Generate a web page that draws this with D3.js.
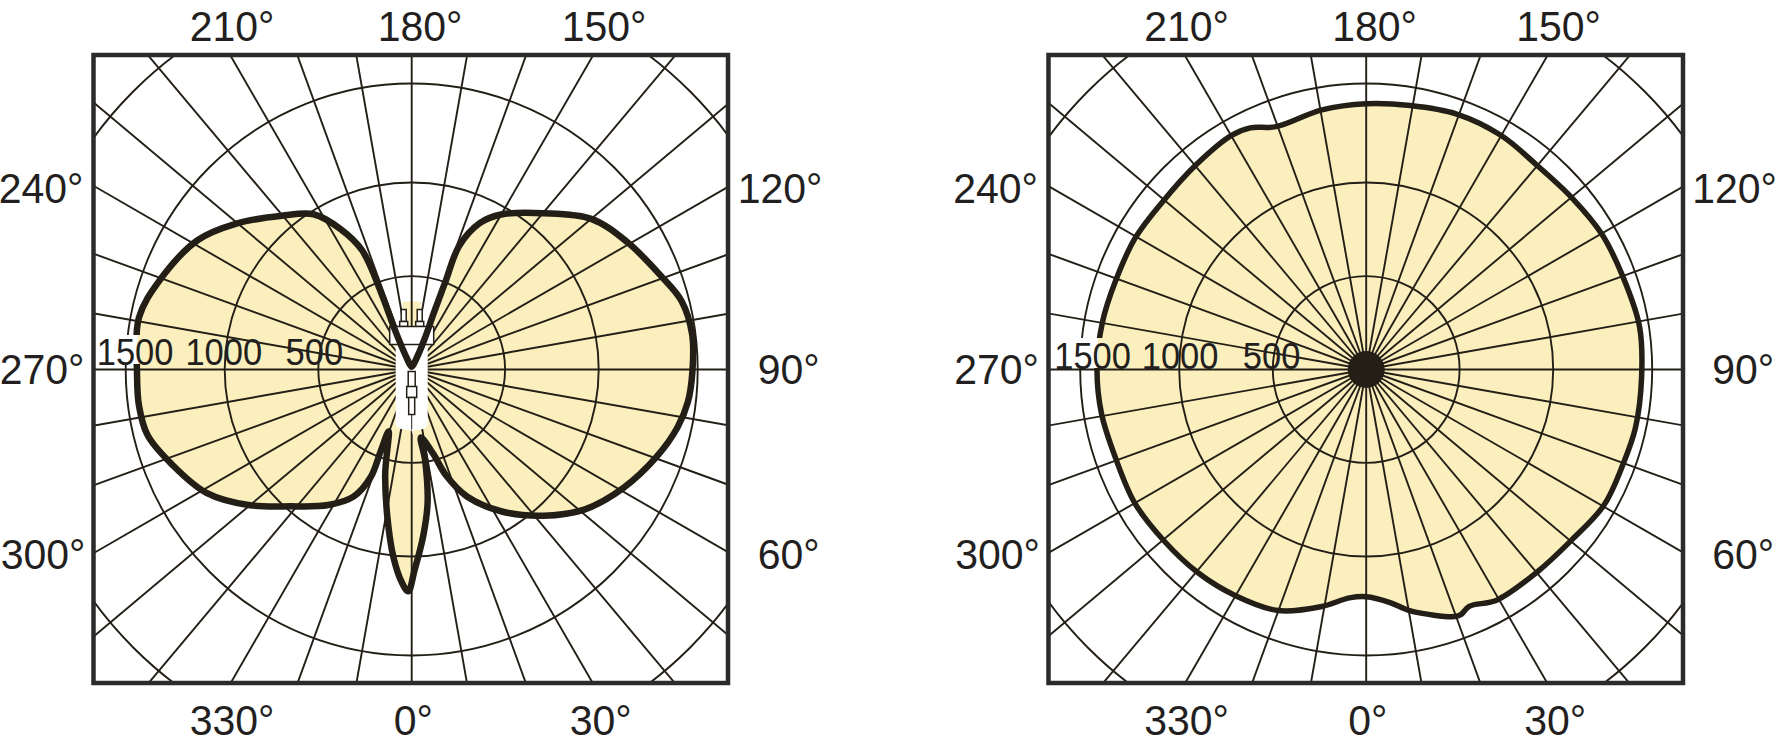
<!DOCTYPE html>
<html>
<head>
<meta charset="utf-8">
<title>Polar light distribution</title>
<script src="https://cdn.jsdelivr.net/npm/d3@7"></script>
<style>
  html, body { margin: 0; padding: 0; background: #fff; }
  svg { display: block; }
  text { font-family: "Liberation Sans", Arial, sans-serif; fill: #231f20; }
</style>
</head>
<body>
<div id="chart"></div>
<script>
// C-plane angle (deg, 0 = down, 90 = right, 180 = up) and intensity (cd)
const leftAngles = [0.8, 3.9, 6.8, 8.4, 7.7, 14.4, 18, 23.6, 32.2, 42, 51.1, 60.7, 70.4, 77.8, 83.3, 89.4, 97.1, 104.2, 110.6, 120.6, 130, 139.9, 150, 155, 159, 159, 158.6, 157, 157, 180, 203, 203, 201.7, 202.6, 206.8, 212.3, 220.2, 230.4, 238.8, 250.4, 259.3, 270.6, 277.6, 284, 291.8, 301, 309.7, 318.5, 328.4, 335.4, 339.1, 339.2, 339.5, 345.7, 350.5, 354.5, 357.4, 359.1]
const leftValues = [1070, 896, 718, 493, 367, 468, 597, 743, 896, 1049, 1180, 1280, 1369, 1430, 1460, 1473, 1483, 1462, 1400, 1320, 1239, 1087, 957, 865, 707, 513, 322, 170, 60, 15, 60, 226, 444, 691, 840, 982, 1072, 1210, 1318, 1405, 1458, 1443, 1445, 1430, 1356, 1265, 1127, 977, 851, 748, 619, 462, 354, 574, 793, 1011, 1134, 1176]

const rightAngles = [0, 5.7, 10.4, 19.7, 21.1, 23.5, 29.5, 40, 49.9, 60.2, 69.5, 77.8, 88.4, 98.9, 110, 119.9, 129.7, 140.2, 150.1, 160.5, 170.5, 180, 189.7, 200.4, 205.6, 209.9, 219.8, 230.7, 240.4, 250.4, 259.9, 269.8, 279.3, 289.7, 300, 310.4, 320.4, 330, 339.9, 349.4, 355.8]
const rightValues = [1203, 1237, 1295, 1381, 1383, 1360, 1394, 1394, 1403, 1438, 1438, 1447, 1447, 1453, 1434, 1428, 1409, 1400, 1420, 1424, 1407, 1398, 1386, 1364, 1409, 1420, 1400, 1388, 1398, 1398, 1409, 1415, 1411, 1398, 1405, 1394, 1388, 1375, 1352, 1273, 1212]

const ringValues = [500, 1000, 1500, 2000]
const ringLabels = [500, 1000, 1500]
const spokeAngles = d3.range(0, 360, 10)
const angleLabels = [210, 180, 150, 240, 120, 270, 90, 300, 60, 330, 0, 30]

const ink = '#231f17'
const cream = '#fbf0bd'
const frameTop = 55
const frameW = 634.5
const frameH = 628
const width = 1780
const height = 750

// rings are not quite evenly spaced in the source drawing
const r = d3.scaleLinear().domain([0, 500, 1000, 1500, 2000]).range([0, 93.4, 187, 286, 393.5])
const theta = d3.scaleLinear().domain([0, 360]).range([Math.PI, -Math.PI])

const svg = d3.select('#chart').append('svg')
  .attr('width', width)
  .attr('height', height)

// label anchor offsets from the chart centre
const labelPos = {
  210: [-222, 41], 180: [-34, 41], 150: [150, 41],
  240: [-413, 203], 120: [326, 203],
  270: [-412, 384], 90: [346, 384],
  300: [-411, 569], 60: [346, 569],
  330: [-222, 735], 0: [-18, 735], 30: [158, 735]
}

// the source type is a bit narrower than Liberation at the same height
function squeeze (sel, factor) {
  sel.each(function () {
    this.setAttribute('textLength', this.getComputedTextLength() * factor)
    this.setAttribute('lengthAdjust', 'spacingAndGlyphs')
  })
}

function drawPolar (id, cx, left, angles, values, opts) {
  const cy = 369.5
  const g = svg.append('g').attr('transform', `translate(${cx},${cy})`)

  svg.append('clipPath').attr('id', id)
    .append('rect')
    .attr('x', left - cx)
    .attr('y', frameTop - cy)
    .attr('width', frameW)
    .attr('height', frameH)

  const outline = d3.lineRadial()
    .angle(d => theta(d[0]))
    .radius(d => r(d[1]))
    .curve(d3.curveCatmullRomClosed.alpha(0.5))
  const points = d3.zip(angles, values)

  g.append('path')
    .attr('d', outline(points))
    .attr('fill', cream)

  if (opts.lamp) {
    // small unoutlined lobe above the lamp cap
    g.append('path')
      .attr('d', d3.arc()({
        innerRadius: 0,
        outerRadius: r(365),
        startAngle: theta(188),
        endAngle: theta(172)
      }))
      .attr('fill', cream)
  }

  const grid = g.append('g')
    .attr('clip-path', `url(#${id})`)
    .attr('fill', 'none')
    .attr('stroke', ink)
    .attr('stroke-width', 1.9)

  grid.selectAll('circle')
    .data(ringValues)
    .join('circle')
    .attr('r', d => r(d))

  const spoke = d3.lineRadial().angle(d => theta(d)).radius((d, i) => i ? 600 : 0)
  grid.selectAll('path')
    .data(spokeAngles)
    .join('path')
    .attr('d', d => spoke([d, d]))

  if (opts.lamp) drawLamp(g)

  g.append('path')
    .attr('d', outline(points))
    .attr('fill', 'none')
    .attr('stroke', ink)
    .attr('stroke-width', opts.stroke)
    .attr('stroke-linejoin', 'round')

  if (!opts.lamp) {
    g.append('circle').attr('r', 18.5).attr('fill', ink)
  }

  // the 1500 label knocks out the ring and the outline behind it
  const edge = r(values[d3.leastIndex(angles, a => Math.abs(a - 270))])
  g.append('rect')
    .attr('x', -r(1500) - 5)
    .attr('y', opts.gapTop)
    .attr('width', r(1500) + 5 - edge + 1)
    .attr('height', opts.gapHeight)
    .attr('fill', '#fff')
  g.append('rect')
    .attr('x', -edge + 1)
    .attr('y', opts.gapTop)
    .attr('width', 7)
    .attr('height', opts.gapHeight)
    .attr('fill', cream)

  g.selectAll('text.ring')
    .data(ringLabels)
    .join('text')
    .attr('class', 'ring')
    .attr('x', d => -r(d) + opts.ringDx[d])
    .attr('y', opts.ringY)
    .attr('font-size', 36.5)
    .text(d => d)
    .call(squeeze, 0.945)

  g.selectAll('text.angle')
    .data(angleLabels)
    .join('text')
    .attr('class', 'angle')
    .attr('x', d => labelPos[d][0])
    .attr('y', d => labelPos[d][1] - cy)
    .attr('font-size', 43)
    .text(d => `${d}°`)
    .call(squeeze, 0.953)

  g.append('rect')
    .attr('x', left - cx)
    .attr('y', frameTop - cy)
    .attr('width', frameW)
    .attr('height', frameH)
    .attr('fill', 'none')
    .attr('stroke', '#2b2b2b')
    .attr('stroke-width', 4.5)
}

// lamp silhouette over the centre of the first diagram
function drawLamp (g) {
  const lamp = g.append('g').attr('stroke', ink).attr('stroke-width', 1.5).attr('fill', '#fff')
  lamp.selectAll('rect.pin')
    .data([-8, 8])
    .join('rect')
    .attr('class', 'pin')
    .attr('x', d => d - 2.5)
    .attr('y', -60)
    .attr('width', 5)
    .attr('height', 12)
  lamp.selectAll('rect.base')
    .data([-8, 8])
    .join('rect')
    .attr('class', 'base')
    .attr('x', d => d - 4)
    .attr('y', -48)
    .attr('width', 8)
    .attr('height', 5)
  lamp.append('path')
    .attr('stroke', 'none')
    .attr('d', 'M-16,-36 V54 Q-16,59 -8,60 L0,61 L1,65 L2,61 L9,60 Q16,59 16,54 V-36 Z')
  lamp.append('rect')
    .attr('x', -22)
    .attr('y', -43)
    .attr('width', 44)
    .attr('height', 18)
  lamp.append('rect').attr('x', -3.5).attr('y', 2).attr('width', 7).attr('height', 16)
  lamp.append('rect').attr('x', -5).attr('y', 17).attr('width', 10).attr('height', 11)
  lamp.append('rect').attr('x', -3).attr('y', 28).attr('width', 6).attr('height', 17)
  lamp.append('line').attr('x1', 0).attr('x2', 0).attr('y1', 45).attr('y2', 60).attr('stroke-width', 1)
}

drawPolar('clipLeft', 411.7, 93.5, leftAngles, leftValues, {
  lamp: true,
  stroke: 6.5,
  gapTop: -34.5,
  gapHeight: 29,
  ringY: -4.5,
  ringDx: { 500: -32.7, 1000: -39.3, 1500: -29 }
})

drawPolar('clipRight', 1366.2, 1048.5, rightAngles, rightValues, {
  lamp: false,
  stroke: 5.5,
  gapTop: -31.5,
  gapHeight: 30,
  ringY: -1,
  ringDx: { 500: -30, 1000: -37.5, 1500: -26 }
})
</script>
</body>
</html>
